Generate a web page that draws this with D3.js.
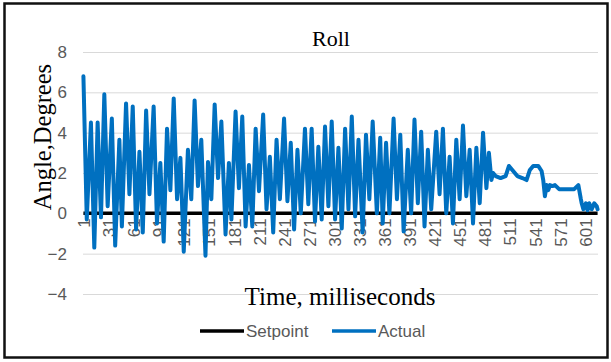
<!DOCTYPE html>
<html>
<head>
<meta charset="utf-8">
<script src="https://cdn.jsdelivr.net/npm/d3@7"></script>
<style>
  body { margin: 0; background: #fff; }
  svg { display: block; }
</style>
</head>
<body>
<svg id="chart" width="611" height="362"></svg>
<script>
// sample number (x) and roll angle in degrees, read at the turning points of the trace
var sampleIdx = [1, 5, 10, 14, 18, 22, 26, 30, 35, 39,
    44, 47, 52, 56, 60, 64, 68, 72, 76, 80,
    85, 89, 93, 97, 101, 105, 109, 113, 117, 121,
    126, 130, 134, 138, 142, 147, 150, 154, 158, 162,
    166, 171, 175, 178, 183, 187, 191, 195, 199, 203,
    207, 211, 216, 220, 224, 228, 232, 236, 241, 245,
    249, 253, 257, 261, 266, 270, 274, 278, 282, 286,
    290, 294, 298, 302, 306, 310, 314, 318, 322, 326,
    330, 335, 339, 343, 347, 352, 356, 359, 363, 367,
    372, 376, 380, 384, 389, 393, 397, 401, 405, 409,
    413, 417, 423, 427, 431, 435, 439, 443, 447, 451,
    455, 459, 463, 467, 471, 475, 479, 483, 486, 489,
    491, 494, 500, 506, 510, 514, 520, 526, 531, 535,
    539, 545, 549, 551, 553, 555, 557, 559, 562, 565,
    570, 578, 588, 593, 596, 597, 599, 602, 604, 606,
    609, 612, 615, 616];
var rollDeg = [6.8, -0.3, 4.5, -1.7, 4.5, -0.2, 5.9, 0.35, 4.7, -1.6,
    3.65, -0.65, 5.45, 0.95, 5.3, -0.8, 3.05, -0.95, 5.1, 0.95,
    5.3, -0.5, 2.5, -1.4, 4.2, 1.15, 5.7, 0.7, 2.75, -1.9,
    3.15, 0.7, 5.6, 1.35, 3.65, -2.1, 2.55, 0.7, 5.4, 1.75,
    4.55, -1.05, 2.5, -0.3, 5.05, 1.25, 4.8, -0.65, 2.4, -0.65,
    4.2, 1.1, 4.9, 0.2, 2.8, -0.95, 3.65, 0.7, 4.7, 0.6,
    3.5, -0.8, 3.15, 0.0, 4.2, 0.45, 4.2, -0.4, 3.3, -0.3,
    4.3, 0.35, 4.55, -0.3, 3.25, -0.75, 4.2, 0.2, 4.8, -0.15,
    3.65, -0.95, 3.9, 0.7, 4.55, 0.0, 3.75, -0.5, 3.5, 0.0,
    4.7, 0.7, 3.9, -0.9, 3.15, 0.0, 4.65, 0.5, 4.05, -0.65,
    3.15, 0.2, 4.05, 0.95, 4.2, 0.0, 2.8, -0.5, 3.65, 0.7,
    4.35, 0.85, 3.15, -0.5, 3.25, 0.5, 4.0, 1.25, 3.0, 1.65,
    2.0, 1.85, 1.75, 1.85, 2.35, 2.15, 1.85, 1.75, 1.65, 2.15,
    2.35, 2.35, 2.1, 1.65, 0.85, 1.4, 1.15, 1.4, 1.35, 1.4,
    1.2, 1.2, 1.2, 1.4, 0.7, 0.5, 0.2, 0.5, 0.15, 0.5,
    0.2, 0.5, 0.35, 0.2];

var setpointIdx = [1, 616];
var setpointDeg = [0, 0];

var sampleCount = 616;
var xTickLabels = [1, 31, 61, 91, 121, 151, 181, 211, 241, 271, 301, 331, 361, 391, 421, 451, 481, 511, 541, 571, 601];
var yTickLabels = [-4, -2, 0, 2, 4, 6, 8];

var chartTitle = "Roll";
var xTitle = "Time, milliseconds";
var yTitle = "Angle,Degrees";
var seriesNames = ["Setpoint", "Actual"];
var seriesColors = ["#000000", "#0070c0"];

var svg = d3.select("#chart");
var plot = {left: 83, right: 598, top: 52, bottom: 294};
var tickFont = "'Liberation Sans', Arial, sans-serif";
var titleFont = "'Liberation Serif', 'Times New Roman', serif";

// outer frame
svg.append("rect")
    .attr("x", 4.5).attr("y", 3.5)
    .attr("width", 603).attr("height", 354)
    .attr("fill", "#fff")
    .attr("stroke", "#111")
    .attr("stroke-width", 2.5);

var x = d3.scaleLinear().domain([0.5, sampleCount + 0.5]).range([plot.left, plot.right]);
var y = d3.scaleLinear().domain([-4, 8]).range([plot.bottom, plot.top]);

// horizontal gridlines
svg.append("g")
    .attr("transform", "translate(" + plot.left + ",0)")
    .call(d3.axisLeft(y).tickValues(yTickLabels).tickSize(-(plot.right - plot.left)).tickFormat(""))
    .call(function(g){
        g.select(".domain").remove();
        g.selectAll("line").attr("stroke", "#d9d9d9").attr("stroke-width", 1);
    });

// y tick labels
svg.append("g")
    .attr("transform", "translate(" + plot.left + ",0)")
    .call(d3.axisLeft(y).tickValues(yTickLabels).tickSize(0).tickPadding(16))
    .call(function(g){
        g.select(".domain").remove();
        g.selectAll("text")
            .attr("fill", "#595959")
            .style("font-family", tickFont)
            .style("font-size", "17px");
    });

// x tick labels, rotated, hanging under the zero line
svg.append("g")
    .attr("transform", "translate(0," + y(0) + ")")
    .call(d3.axisBottom(x).tickValues(xTickLabels).tickSize(0))
    .call(function(g){
        g.select(".domain").remove();
        g.selectAll("text")
            .attr("transform", "rotate(-90)")
            .attr("x", -5)
            .attr("y", 0)
            .attr("dy", "0.36em")
            .attr("text-anchor", "end")
            .attr("fill", "#595959")
            .style("font-family", tickFont)
            .style("font-size", "17px");
    });

var line = d3.line()
    .x(function(d){ return x(d[0]); })
    .y(function(d){ return y(d[1]); });

// setpoint
svg.append("path")
    .datum(d3.zip(setpointIdx, setpointDeg))
    .attr("fill", "none")
    .attr("stroke", seriesColors[0])
    .attr("stroke-width", 3.5)
    .attr("d", line);

// actual
svg.append("path")
    .datum(d3.zip(sampleIdx, rollDeg))
    .attr("fill", "none")
    .attr("stroke", seriesColors[1])
    .attr("stroke-width", 4)
    .attr("stroke-linejoin", "round")
    .attr("stroke-linecap", "round")
    .attr("d", line);

// titles
svg.append("text")
    .attr("x", 331).attr("y", 46)
    .attr("text-anchor", "middle")
    .style("font-family", titleFont).style("font-size", "22px")
    .attr("fill", "#000")
    .text(chartTitle);

svg.append("text")
    .attr("x", 340).attr("y", 305)
    .attr("text-anchor", "middle")
    .style("font-family", titleFont).style("font-size", "25px")
    .attr("fill", "#000")
    .text(xTitle);

svg.append("text")
    .attr("transform", "translate(51,137) rotate(-90)")
    .attr("text-anchor", "middle")
    .style("font-family", titleFont).style("font-size", "24.5px")
    .attr("fill", "#000")
    .text(yTitle);

// legend
var legendX = [200, 332];
var legend = svg.append("g");
seriesNames.forEach(function(name, i){
    legend.append("line")
        .attr("x1", legendX[i]).attr("x2", legendX[i] + 44)
        .attr("y1", 331).attr("y2", 331)
        .attr("stroke", seriesColors[i])
        .attr("stroke-width", 3.5);
    legend.append("text")
        .attr("x", legendX[i] + 46).attr("y", 337)
        .attr("fill", "#595959")
        .style("font-family", tickFont).style("font-size", "17px")
        .text(name);
});
</script>
</body>
</html>
